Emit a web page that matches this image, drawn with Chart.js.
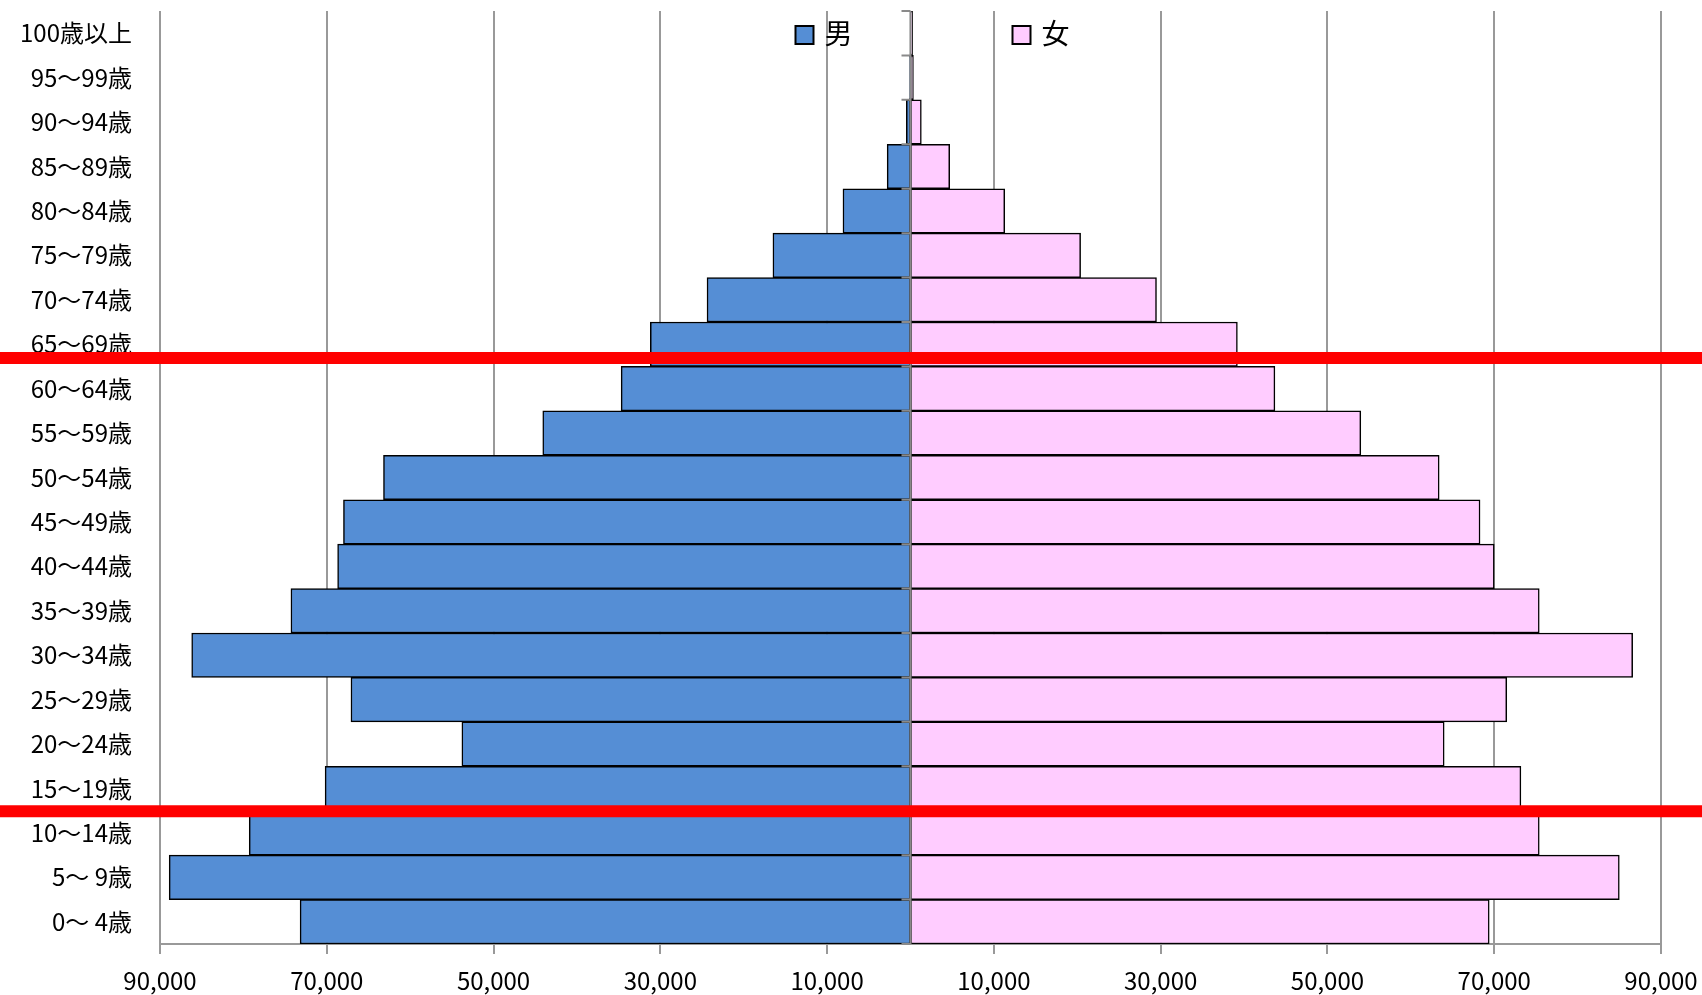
<!DOCTYPE html>
<html lang="ja">
<head>
<meta charset="utf-8">
<title>人口ピラミッド</title>
<script src="https://cdn.jsdelivr.net/npm/chart.js@4.4.1/dist/chart.umd.min.js"></script>
<style>
  html, body { margin: 0; padding: 0; background: #fff; }
  canvas { display: block; }
</style>
</head>
<body>
<canvas id="pyramid" width="1702" height="995"></canvas>
<script>
  // ---- Data -------------------------------------------------
  const AGE_GROUPS = [
    '100歳以上', '95〜99歳', '90〜94歳', '85〜89歳', '80〜84歳', '75〜79歳', '70〜74歳',
    '65〜69歳', '60〜64歳', '55〜59歳', '50〜54歳', '45〜49歳', '40〜44歳', '35〜39歳',
    '30〜34歳', '25〜29歳', '20〜24歳', '15〜19歳', '10〜14歳', '5〜 9歳', '0〜 4歳',
  ];
  const MALE = [
    50, 120, 500, 2800, 8100, 16500, 24400,
    31200, 34700, 44100, 63200, 68000, 68700, 74300,
    86200, 67100, 53800, 70200, 79300, 88900, 73200,
  ];
  const FEMALE = [
    250, 350, 1300, 4700, 11300, 20400, 29500,
    39200, 43700, 54000, 63400, 68300, 70000, 75400,
    86600, 71500, 64000, 73200, 75400, 85000, 69400,
  ];
  const SERIES_LABELS = ['男', '女'];
  const X_MIN = -90000;
  const X_MAX = 90000;
  const X_STEP = 20000;
  // red marker lines, position in category-index units
  const MARKER_LINES = [7.31, 17.51];

  // ---- Styles -----------------------------------------------
  const FONT = '"Noto Sans CJK JP", "Noto Sans", sans-serif';
  const COLORS = {
    male: '#558ED5',
    female: '#FFCCFF',
    grid: '#999999',
    axis: '#8a8a8a',
    marker: '#FF0000',
    text: '#000000',
  };

  // ---- Plugins ----------------------------------------------
  // vertical category axis drawn at zero, over the bars
  const centerAxis = {
    id: 'centerAxis',
    afterDatasetsDraw(chart) {
      const { ctx, chartArea, scales } = chart;
      const x0 = scales.x.getPixelForValue(0);
      ctx.save();
      ctx.strokeStyle = COLORS.axis;
      ctx.lineWidth = 2;
      ctx.beginPath();
      ctx.moveTo(x0, chartArea.top);
      ctx.lineTo(x0, chartArea.bottom);
      for (let i = 0; i <= AGE_GROUPS.length; i++) {
        const y = scales.y.getPixelForValue(i - 0.5);
        ctx.moveTo(x0 - 9, y);
        ctx.lineTo(x0, y);
      }
      ctx.stroke();
      ctx.restore();
    },
  };

  const markerLines = {
    id: 'markerLines',
    afterDraw(chart) {
      const { ctx, scales } = chart;
      ctx.save();
      ctx.strokeStyle = COLORS.marker;
      ctx.lineWidth = 12;
      MARKER_LINES.forEach((v) => {
        const y = scales.y.getPixelForValue(v);
        ctx.beginPath();
        ctx.moveTo(0, y);
        ctx.lineTo(chart.width, y);
        ctx.stroke();
      });
      ctx.restore();
    },
  };

  // legend floats inside the plot, either side of the zero line
  const floatLegend = {
    id: 'floatLegend',
    afterDraw(chart) {
      const { ctx, scales } = chart;
      const x0 = scales.x.getPixelForValue(0);
      const items = [
        { x: x0 - 115, color: COLORS.male, label: SERIES_LABELS[0] },
        { x: x0 + 102, color: COLORS.female, label: SERIES_LABELS[1] },
      ];
      ctx.save();
      items.forEach((it) => {
        ctx.fillStyle = it.color;
        ctx.fillRect(it.x, 26, 18, 18);
        ctx.strokeStyle = '#000';
        ctx.lineWidth = 2;
        ctx.strokeRect(it.x, 26, 18, 18);
        ctx.fillStyle = COLORS.text;
        ctx.font = '28px ' + FONT;
        ctx.textBaseline = 'middle';
        ctx.fillText(it.label, it.x + 29, 33);
      });
      ctx.restore();
    },
  };

  // ---- Chart ------------------------------------------------
  function initChart() {
    const canvas = document.getElementById('pyramid');

    new Chart(canvas, {
      type: 'bar',
      data: {
        labels: AGE_GROUPS,
        datasets: [
          {
            label: SERIES_LABELS[0],
            data: MALE.map((v) => -v),
            backgroundColor: COLORS.male,
            borderColor: '#000',
            borderWidth: 1.5,
            borderSkipped: false,
            categoryPercentage: 1,
            barPercentage: 1,
          },
          {
            label: SERIES_LABELS[1],
            data: FEMALE,
            backgroundColor: COLORS.female,
            borderColor: '#000',
            borderWidth: 1.5,
            borderSkipped: false,
            categoryPercentage: 1,
            barPercentage: 1,
          },
        ],
      },
      options: {
        indexAxis: 'y',
        responsive: false,
        animation: false,
        layout: { padding: { top: 11, right: 0, left: 0, bottom: 0 } },
        scales: {
          x: {
            type: 'linear',
            stacked: true,
            min: X_MIN,
            max: X_MAX,
            grid: { color: COLORS.grid, lineWidth: 2, tickLength: 10, drawTicks: true },
            border: { color: COLORS.grid, width: 2 },
            ticks: {
              stepSize: X_STEP,
              color: COLORS.text,
              padding: 12,
              maxRotation: 0,
              font: { family: FONT, size: 24 },
              callback: (v) => Math.abs(v).toLocaleString('en-US'),
            },
            afterFit: (scale) => {
              scale.height = 51;
              scale.paddingRight = 41;
            },
          },
          y: {
            type: 'category',
            stacked: true,
            grid: { display: false, drawTicks: false },
            border: { display: false },
            ticks: {
              color: COLORS.text,
              padding: 28,
              autoSkip: false,
              font: { family: FONT, size: 24 },
            },
            afterFit: (scale) => {
              scale.width = 160;
              scale.paddingTop = 0;
              scale.paddingBottom = 0;
            },
          },
        },
        plugins: {
          legend: { display: false },
          tooltip: { enabled: false },
        },
      },
      plugins: [centerAxis, markerLines, floatLegend],
    });
  }

  initChart();
</script>
</body>
</html>
